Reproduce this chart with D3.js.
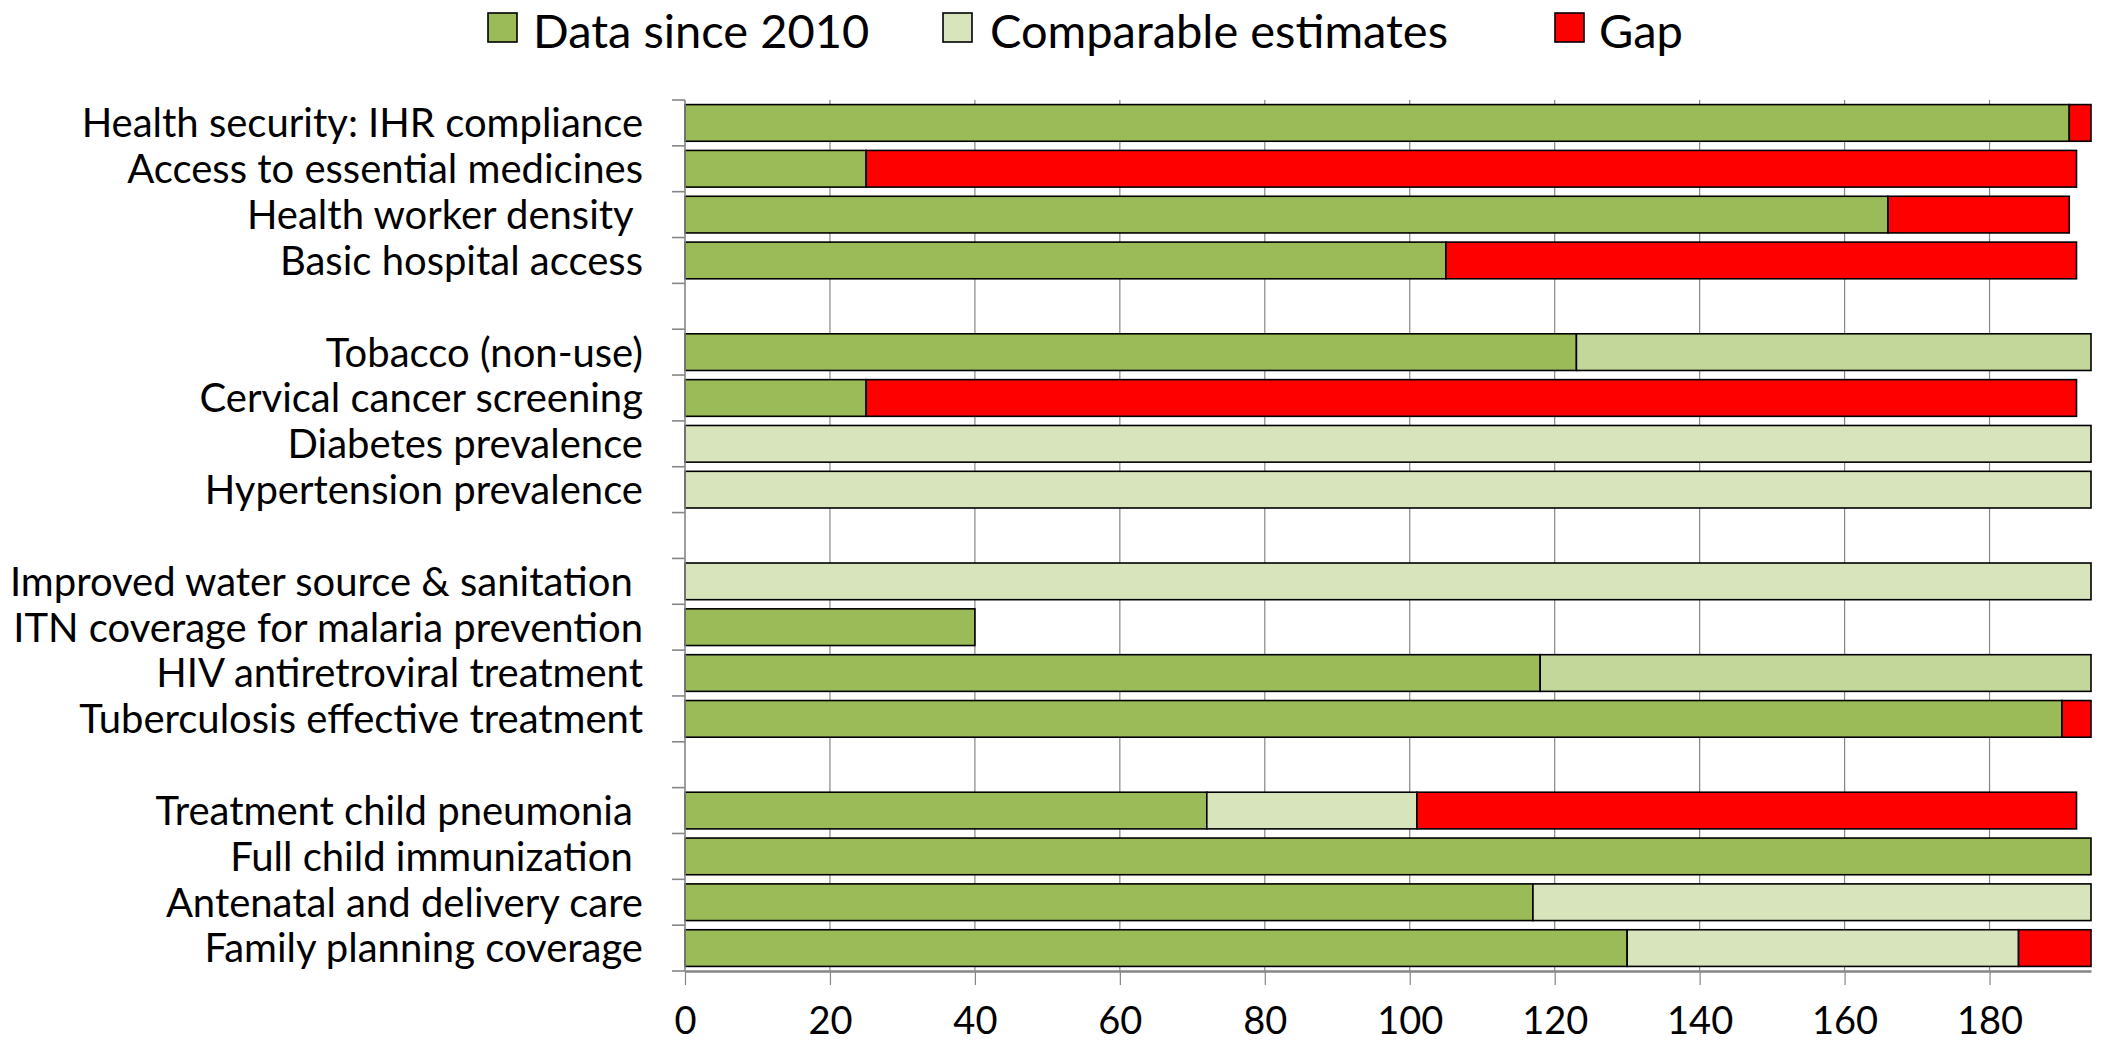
<!DOCTYPE html>
<html>
<head>
<meta charset="utf-8">
<script src="https://cdn.jsdelivr.net/npm/d3@7"></script>
<style>
  html, body { margin: 0; padding: 0; background: #fff; }
  svg { display: block; }
  text { font-family: Lato, "Noto Sans", sans-serif; fill: #000; }
</style>
</head>
<body>
<svg id="chart" width="2107" height="1044"></svg>
<script>
// Indicator rows, top to bottom; empty strings are spacer rows between groups.
const categories = [
  "Health security: IHR compliance",
  "Access to essential medicines",
  "Health worker density ",
  "Basic hospital access",
  "",
  "Tobacco (non-use)",
  "Cervical cancer screening",
  "Diabetes prevalence",
  "Hypertension prevalence",
  "",
  "Improved water source & sanitation ",
  "ITN coverage for malaria prevention",
  "HIV antiretroviral treatment",
  "Tuberculosis effective treatment",
  "",
  "Treatment child pneumonia ",
  "Full child immunization ",
  "Antenatal and delivery care",
  "Family planning coverage"
];

// Number of countries in each segment.
const dataSince2010 = [191, 25, 166, 105, 0, 123, 25, 0, 0, 0, 0, 40, 118, 190, 0, 72, 194, 117, 130];
const comparableEstimates = [0, 0, 0, 0, 0, 71, 0, 194, 194, 0, 194, 0, 76, 0, 0, 29, 0, 77, 54];
const gap = [3, 167, 25, 87, 0, 0, 167, 0, 0, 0, 0, 0, 0, 4, 0, 91, 0, 0, 10];

const xTicks = [0, 20, 40, 60, 80, 100, 120, 140, 160, 180];

const seriesKeys = ["since2010", "comparable", "gap"];
const seriesNames = ["Data since 2010", "Comparable estimates", "Gap"];
const colors = { since2010: "#9BBB59", comparable: "#D8E4BC", gap: "#FF0000" };
// Rows whose comparable estimates are drawn in a deeper shade.
const deeperComparable = new Set(["Tobacco (non-use)", "HIV antiretroviral treatment"]);

const rows = categories.map((c, i) => ({
  idx: String(i),
  label: c,
  since2010: dataSince2010[i],
  comparable: comparableEstimates[i],
  gap: gap[i]
}));

const svg = d3.select("#chart");
const W = 2107, H = 1044;
const margin = { left: 685, right: W - 2091, top: 100, bottom: H - 971 };

const x = d3.scaleLinear().domain([0, 194]).range([margin.left, W - margin.right]);
const y = d3.scaleBand()
  .domain(rows.map(r => r.idx))
  .range([margin.top, H - margin.bottom])
  .paddingInner(0.2)
  .paddingOuter(0.1);

const gridColor = "#868686";

// Vertical gridlines
svg.append("g")
  .selectAll("line")
  .data(xTicks.filter(t => t > 0))
  .join("line")
  .attr("x1", d => x(d)).attr("x2", d => x(d))
  .attr("y1", margin.top).attr("y2", H - margin.bottom)
  .attr("stroke", gridColor)
  .attr("stroke-width", 1.2);

// Stacked bars
const stacked = d3.stack().keys(seriesKeys)(rows);
const segs = [];
stacked.forEach(layer => {
  layer.forEach(d => {
    if (d[1] - d[0] > 0) segs.push({ key: layer.key, x0: d[0], x1: d[1], row: d.data });
  });
});

svg.append("g")
  .selectAll("rect")
  .data(segs)
  .join("rect")
  .attr("x", d => x(d.x0))
  .attr("width", d => x(d.x1) - x(d.x0))
  .attr("y", d => y(d.row.idx))
  .attr("height", y.bandwidth())
  .attr("fill", d => d.key === "comparable" && deeperComparable.has(d.row.label) ? "#C4D79B" : colors[d.key])
  .attr("stroke", "#000")
  .attr("stroke-width", 1.6);

// Left (category) axis with ticks on band boundaries
const yAxisG = svg.append("g");
yAxisG.append("line")
  .attr("x1", x(0)).attr("x2", x(0))
  .attr("y1", margin.top).attr("y2", H - margin.bottom)
  .attr("stroke", gridColor).attr("stroke-width", 1.6);
const boundaries = d3.range(rows.length + 1).map(i => margin.top + i * (H - margin.bottom - margin.top) / rows.length);
yAxisG.selectAll("line.tick")
  .data(boundaries)
  .join("line")
  .attr("class", "tick")
  .attr("x1", x(0) - 13).attr("x2", x(0))
  .attr("y1", d => d).attr("y2", d => d)
  .attr("stroke", gridColor).attr("stroke-width", 1.6);

yAxisG.selectAll("text")
  .data(rows)
  .join("text")
  .attr("x", 643)
  .attr("y", d => y(d.idx) + y.bandwidth() / 2)
  .attr("dy", "0.36em")
  .attr("text-anchor", "end")
  .style("white-space", "pre")
  .attr("font-size", 40)
  .text(d => d.label);

// Bottom value axis
const xAxis = d3.axisBottom(x).tickValues(xTicks).tickSize(14).tickPadding(22).tickSizeOuter(0);
const xAxisG = svg.append("g")
  .attr("transform", `translate(0,${H - margin.bottom})`)
  .call(xAxis);
xAxisG.select(".domain").attr("stroke", gridColor).attr("stroke-width", 2.4);
xAxisG.selectAll(".tick line").attr("stroke", gridColor).attr("stroke-width", 1.2);
xAxisG.selectAll(".tick text")
  .attr("font-size", 38)
  .attr("font-family", "Lato, 'Noto Sans', sans-serif")
  .attr("fill", "#000");

// Legend
const legendItems = [
  { key: "since2010", name: seriesNames[0], sx: 488, tx: 533 },
  { key: "comparable", name: seriesNames[1], sx: 943, tx: 990 },
  { key: "gap", name: seriesNames[2], sx: 1555, tx: 1599 }
];
const lg = svg.append("g");
lg.selectAll("rect")
  .data(legendItems)
  .join("rect")
  .attr("x", d => d.sx).attr("y", 13)
  .attr("width", 29).attr("height", 29)
  .attr("fill", d => colors[d.key])
  .attr("stroke", "#000").attr("stroke-width", 1.6);
lg.selectAll("text")
  .data(legendItems)
  .join("text")
  .attr("x", d => d.tx).attr("y", 47.5)
  .attr("font-size", 47)
  .text(d => d.name);
</script>
</body>
</html>
